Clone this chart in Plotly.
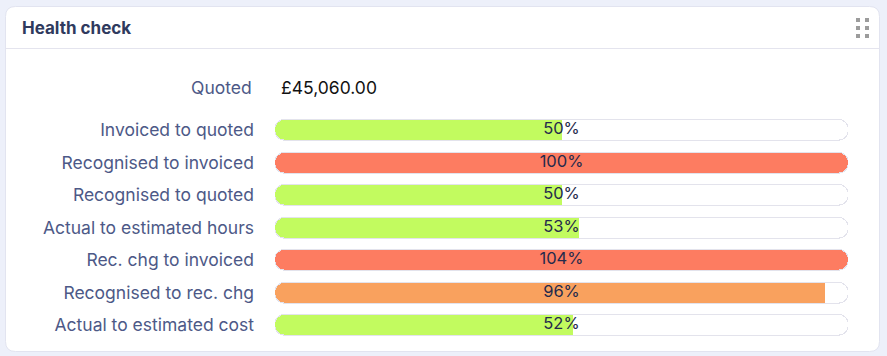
import plotly.graph_objects as go

# ---- data ----
metrics = ["Invoiced to quoted", "Recognised to invoiced", "Recognised to quoted",
           "Actual to estimated hours", "Rec. chg to invoiced", "Recognised to rec. chg",
           "Actual to estimated cost"]
percent = [50, 100, 50, 53, 104, 96, 52]
fill_colors = ["#c2fb5f", "#fd7c61", "#c2fb5f", "#c2fb5f", "#fd7c61", "#f9a15e", "#c2fb5f"]
quoted_label = "Quoted"
quoted_value = "£45,060.00"
title = "Health check"

W, H = 887, 356
FONT = "Inter"
LABEL_C = "#4d5987"
TEXT_C = "#252a4c"
BG = "#edf0fa"


def px(x):
    return x / W


def py(y):
    return 1 - y / H


track_x0, track_x1 = 275, 848
row_top, row_h = 113.75, 32.5
n = len(metrics)
px_unit = 1.0 / (track_x1 - track_x0)   # one pixel in data units
NOLINE = dict(width=0)

fig = go.Figure()

frac = [min(p, 100) / 100 for p in percent]

# track border (gray) and track (white); bars drawn from 1 back to 0 are rounded at both ends
fig.add_trace(go.Bar(y=metrics, x=[-(1 + 2 * px_unit)] * n, base=[1 + px_unit] * n,
                     orientation="h", width=0.68,
                     marker=dict(color="#e3e3ec", cornerradius=11, line=NOLINE),
                     hoverinfo="skip", showlegend=False))
fig.add_trace(go.Bar(y=metrics, x=[-1] * n, base=[1] * n, orientation="h", width=0.615,
                     marker=dict(color="#ffffff", cornerradius=10, line=NOLINE),
                     hoverinfo="skip", showlegend=False))

# value fills (rounded both ends) ...
fig.add_trace(go.Bar(y=metrics, x=[-f for f in frac], base=frac, orientation="h",
                     width=0.615, marker=dict(color=fill_colors, cornerradius=10, line=NOLINE),
                     hoverinfo="skip", showlegend=False))
# ... then squared off at the right end unless the bar is full
cap = 10 * px_unit
part_y = [m for m, f in zip(metrics, frac) if f < 1]
part_f = [f for f in frac if f < 1]
part_c = [c for c, f in zip(fill_colors, frac) if f < 1]
fig.add_trace(go.Bar(y=part_y, x=[cap] * len(part_y), base=[f - cap for f in part_f],
                     orientation="h", width=0.615, marker=dict(color=part_c, line=NOLINE),
                     hoverinfo="skip", showlegend=False))

# percentage labels centred on track
fig.add_trace(go.Scatter(y=metrics, x=[0.5] * n, mode="text",
                         text=[f"{p}%" for p in percent],
                         textfont=dict(family=FONT, size=16.5, color=TEXT_C),
                         textposition="middle center", hoverinfo="skip", showlegend=False))

# card shape
cx0, cx1, cy0, cy1, r = 5.5, 879.5, 6.5, 351.5, 10


def P(x, y):
    return f"{px(x):.6f},{py(y):.6f}"


card_path = (f"M {P(cx0 + r, cy0)} L {P(cx1 - r, cy0)} Q {P(cx1, cy0)} {P(cx1, cy0 + r)} "
             f"L {P(cx1, cy1 - r)} Q {P(cx1, cy1)} {P(cx1 - r, cy1)} "
             f"L {P(cx0 + r, cy1)} Q {P(cx0, cy1)} {P(cx0, cy1 - r)} "
             f"L {P(cx0, cy0 + r)} Q {P(cx0, cy0)} {P(cx0 + r, cy0)} Z")
shapes = [
    dict(type="path", xref="paper", yref="paper", path=card_path,
         fillcolor="#ffffff", line=dict(color="#e2e4f0", width=1), layer="below"),
    dict(type="line", xref="paper", yref="paper", x0=px(cx0), x1=px(cx1),
         y0=py(48.5), y1=py(48.5), line=dict(color="#e4e4ee", width=1), layer="below"),
]
for gx in (856, 865):
    for gy in (18, 26, 34):
        shapes.append(dict(type="rect", xref="paper", yref="paper",
                           x0=px(gx), x1=px(gx + 4), y0=py(gy), y1=py(gy + 4),
                           fillcolor="#9c9c9c", line=dict(width=0), layer="below"))

annotations = [
    dict(text=f"<b>{title}</b>", xref="paper", yref="paper", x=px(20), y=py(28),
         xanchor="left", yanchor="middle", showarrow=False,
         font=dict(family=FONT, size=17, color="#2f3a5e")),
    dict(text=quoted_label, xref="paper", yref="paper", x=px(254), y=py(87),
         xanchor="right", yanchor="middle", showarrow=False,
         font=dict(family=FONT, size=17.5, color=LABEL_C)),
    dict(text=quoted_value, xref="paper", yref="paper", x=px(279), y=py(87),
         xanchor="left", yanchor="middle", showarrow=False,
         font=dict(family=FONT, size=17.5, color="#111111")),
]

fig.update_layout(
    width=W, height=H, margin=dict(l=0, r=0, t=0, b=0),
    paper_bgcolor=BG, plot_bgcolor="rgba(0,0,0,0)",
    barmode="overlay", bargap=0,
    shapes=shapes, annotations=annotations,
    xaxis=dict(domain=[px(track_x0), px(track_x1)], range=[0, 1], visible=False,
               fixedrange=True),
    yaxis=dict(domain=[py(row_top + n * row_h), py(row_top)], autorange="reversed",
               categoryorder="array", categoryarray=metrics,
               showgrid=False, zeroline=False, showline=False, ticks="",
               ticklabelstandoff=20,
               tickfont=dict(family=FONT, size=17.5, color=LABEL_C), fixedrange=True),
    showlegend=False,
)

fig.write_html(
    "out.html", config={"displayModeBar": False},
    post_script=f"document.body.style.margin='0';document.body.style.background='{BG}';",
)
